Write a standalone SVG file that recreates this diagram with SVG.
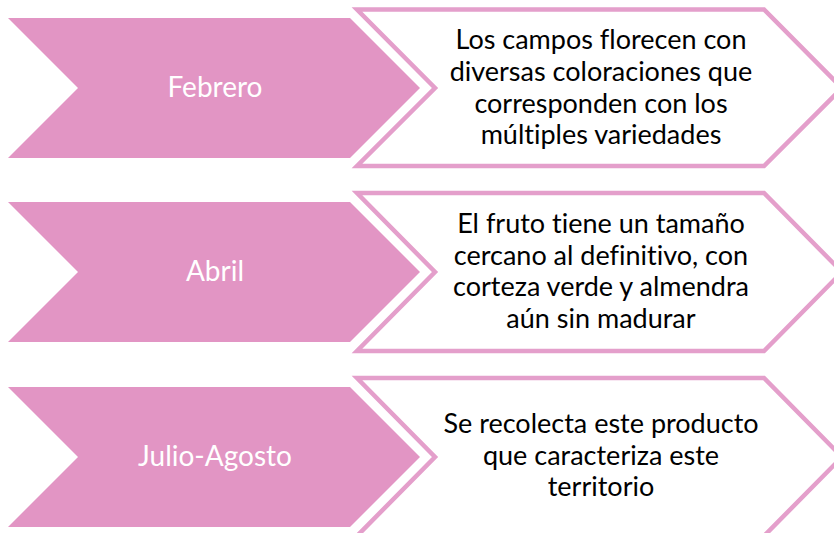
<svg xmlns="http://www.w3.org/2000/svg" width="834" height="533" viewBox="0 0 834 533">
<defs>
<style>
.pink{fill:#E295C4;stroke:none}
.outline{fill:#FFFFFF;stroke:#E49FCB;stroke-width:4.5;stroke-linejoin:miter;stroke-miterlimit:10}
.lab{font-family:Lato,"Open Sans","Liberation Sans",sans-serif;font-size:28px;fill:#FFFFFF;text-anchor:middle;font-variant-ligatures:none}
.desc{font-family:Lato,"Open Sans","Liberation Sans",sans-serif;font-size:27px;fill:#000000;text-anchor:middle;font-variant-ligatures:none}
</style>
</defs>
<rect width="834" height="533" fill="#FFFFFF"/>
<g id="connectors"></g>
<g id="row1-desc">
<polygon class="outline" points="357,9.5 764,9.5 842,88 764,166 357,166 435,88"/>
<text class="desc" x="601" y="49">Los campos florecen con</text>
<text class="desc" x="601" y="81">diversas coloraciones que</text>
<text class="desc" x="601" y="112.5">corresponden con los</text>
<text class="desc" x="601" y="144">múltiples variedades</text>
</g>
<g id="row1-label">
<polygon class="pink" points="8,18 350,18 420,88 350,158 8,158 78,88"/>
<text class="lab" x="215" y="97">Febrero</text>
</g>
<g id="row2-desc">
<polygon class="outline" points="357,193 764,193 842,272 764,351 357,351 435,272"/>
<text class="desc" x="601" y="233">El fruto tiene un tamaño</text>
<text class="desc" x="601" y="264.5">cercano al definitivo, con</text>
<text class="desc" x="601" y="296">corteza verde y almendra</text>
<text class="desc" x="601" y="327.5">aún sin madurar</text>
</g>
<g id="row2-label">
<polygon class="pink" points="8,202 350,202 420,272 350,342 8,342 78,272"/>
<text class="lab" x="215" y="281">Abril</text>
</g>
<g id="row3-desc">
<polygon class="outline" points="357,378 764,378 842,457 764,536 357,536 435,457"/>
<text class="desc" x="601" y="433">Se recolecta este producto</text>
<text class="desc" x="601" y="464.5">que caracteriza este</text>
<text class="desc" x="601" y="496">territorio</text>
</g>
<g id="row3-label">
<polygon class="pink" points="8,387 350,387 420,457 350,527 8,527 78,457"/>
<text class="lab" x="215" y="466">Julio-Agosto</text>
</g>
</svg>
